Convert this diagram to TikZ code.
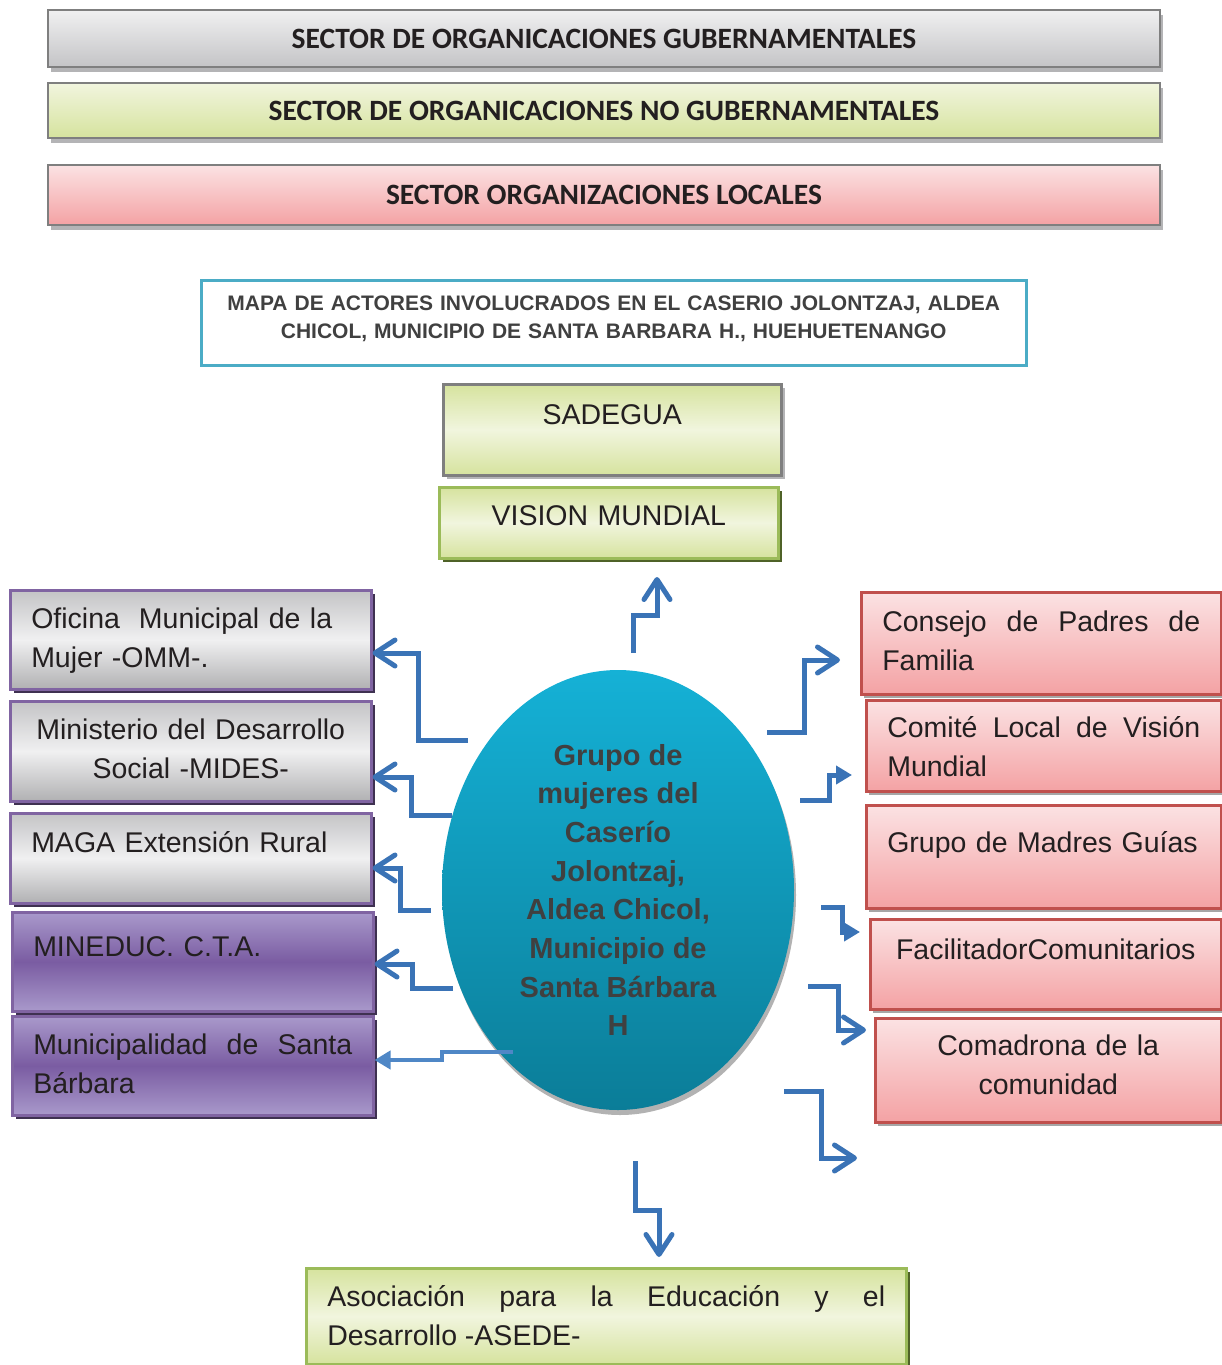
\documentclass[tikz,border=0pt]{standalone}
\usepackage{fontspec}
\setmainfont{Liberation Sans}
\newfontfamily\calibri{Carlito}
\usetikzlibrary{arrows.meta,shadows,shapes.geometric}

\definecolor{arrblue}{HTML}{3A73B6}
\definecolor{arrlight}{HTML}{4F87C6}
\definecolor{purpleline}{HTML}{8064A2}
\definecolor{purpleshadow}{HTML}{3F3151}
\definecolor{redline}{HTML}{C0504D}
\definecolor{greenline}{HTML}{9BBB59}
\definecolor{greenshadow}{HTML}{4F6228}
\definecolor{greyline}{HTML}{7F7F7F}
\definecolor{greyshadow}{HTML}{B4B4B6}
\definecolor{titleline}{HTML}{4BACC6}
\definecolor{boxtext}{HTML}{231F20}
\definecolor{darktext}{HTML}{404040}
% rellenos
\definecolor{greyA}{HTML}{C4C4C6}
\definecolor{greyB}{HTML}{F0F0F1}
\definecolor{lilaA}{HTML}{A999CB}
\definecolor{lilaB}{HTML}{7A5CA2}
\definecolor{pinkA}{HTML}{FBE2E3}
\definecolor{pinkB}{HTML}{F4A2A4}
\definecolor{greenA}{HTML}{D6E39E}
\definecolor{greenB}{HTML}{F1F5DE}
\definecolor{cyanA}{HTML}{15B1D6}
\definecolor{cyanB}{HTML}{0B7D98}

\tikzset{
  bar/.style={rectangle, draw=greyline, line width=2.5pt, minimum width=1112pt,
    font=\calibri\bfseries\fontsize{29.5}{34}\selectfont, text=boxtext,
    drop shadow={shadow xshift=3pt, shadow yshift=-5pt, fill=greyshadow, opacity=1}},
  box/.style={rectangle, anchor=north west, inner ysep=0pt, inner xsep=21pt,
    line width=2.5pt, text=boxtext, font=\fontsize{28.5}{39}\selectfont},
  greybox/.style={box, draw=purpleline, top color=greyA, bottom color=greyA!90!black, middle color=greyB,
    drop shadow={shadow xshift=4pt, shadow yshift=-4pt, fill=purpleshadow, opacity=1}},
  lilabox/.style={box, draw=purpleline, top color=lilaA, bottom color=lilaA, middle color=lilaB,
    drop shadow={shadow xshift=4pt, shadow yshift=-4pt, fill=purpleshadow, opacity=1}},
  pinkbox/.style={box, draw=redline, top color=pinkA, bottom color=pinkB,
    drop shadow={shadow xshift=3pt, shadow yshift=-4pt, fill=gray!70, opacity=1}},
  greenbox/.style={box, draw=greenline, top color=greenA, bottom color=greenA, middle color=greenB,
    drop shadow={shadow xshift=4pt, shadow yshift=-4pt, fill=greenshadow, opacity=1}},
  arr/.style={draw=arrblue, line width=5pt, -{Straight Barb[length=20pt,width=26pt,round]}},
  tri/.style={draw=arrblue, line width=5pt, -{Triangle[length=16pt,width=18pt]}}
}

\begin{document}
\begin{tikzpicture}[x=1pt,y=-1pt]
\useasboundingbox (0,0) rectangle (1222,1365);

% sectores
\node[bar, minimum height=57pt, top color=greyB, bottom color=greyA] (gob) at (604,38.5) {SECTOR DE ORGANICACIONES GUBERNAMENTALES};
\node[bar, minimum height=55pt, top color=greenB, bottom color=greenA] (nogob) at (604,110.5) {SECTOR DE ORGANICACIONES NO GUBERNAMENTALES};
\node[bar, minimum height=60pt, top color=pinkA, bottom color=pinkB] (local) at (604,195) {SECTOR ORGANIZACIONES LOCALES};

% titulo
\node[box, draw=titleline, text=darktext, align=center, text width=783pt, text height=30.5pt, text depth=54.5pt,
  font=\bfseries\fontsize{21}{28}\selectfont] (mapa) at (200,279)
  {MAPA DE ACTORES INVOLUCRADOS EN EL CASERIO JOLONTZAJ, ALDEA\\CHICOL, MUNICIPIO DE SANTA BARBARA H., HUEHUETENANGO};

% arriba
\node[greenbox, draw=greyline, drop shadow={shadow xshift=4pt, shadow yshift=-4pt, fill=greyshadow, opacity=1},
  align=center, text width=296pt, text height=40pt, text depth=51pt] (sadegua) at (442,383) {SADEGUA};
\node[greenbox, align=center, text width=297pt, text height=38pt, text depth=33pt] (vision) at (438,486) {VISION MUNDIAL};

% izquierda
\node[greybox, align=left, text width=319pt, text height=38pt, text depth=61pt] (omm) at (9,589) {Oficina\ \ Municipal de la\\Mujer -OMM-.};
\node[greybox, align=center, text width=325pt, inner xsep=18pt, text height=38pt, text depth=62pt] (mides) at (9,700) {Ministerio del Desarrollo\\Social -MIDES-};
\node[greybox, align=left, text width=319pt, text height=39pt, text depth=51pt] (maga) at (9,812) {MAGA Extensión Rural};
\node[lilabox, align=left, text width=319pt, text height=44pt, text depth=55pt] (mineduc) at (11,911) {MINEDUC. C.T.A.};
\node[lilabox, align=justify, text width=319pt, text height=38pt, text depth=61pt] (muni) at (11,1015) {Municipalidad de Santa\linebreak Bárbara};

% derecha
\node[pinkbox, align=justify, text width=318pt, text height=39pt, text depth=63pt] (consejo) at (860,591) {Consejo de Padres de\linebreak Familia};
\node[pinkbox, align=justify, text width=313pt, text height=37pt, text depth=54pt] (comite) at (865,699) {Comité Local de Visión\linebreak Mundial};
\node[pinkbox, align=left, text width=313pt, text height=47pt, text depth=56pt] (madres) at (865,804) {Grupo de Madres Guías};
\node[pinkbox, align=center, text width=323pt, inner xsep=14pt, text height=40pt, text depth=50pt] (facil) at (869,918) {FacilitadorComunitarios};
\node[pinkbox, align=center, text width=314pt, inner xsep=16pt, text height=37pt, text depth=67pt] (comadrona) at (874,1017) {Comadrona de la\\comunidad};

% abajo
\node[greenbox, align=justify, text width=558pt, text height=38pt, text depth=58pt] (asede) at (305,1267) {Asociación para la Educación y el\linebreak Desarrollo -ASEDE-};

% centro
\node[ellipse, minimum width=352pt, minimum height=440pt, inner sep=0pt, top color=cyanA, bottom color=cyanB,
  draw=none, text=darktext, align=center, font=\bfseries\fontsize{29}{38.7}\selectfont,
  drop shadow={shadow xshift=2pt, shadow yshift=-5pt, fill=gray!60, opacity=1}] (mujeres) at (618,890)
  {Grupo de\\mujeres del\\Caserío\\Jolontzaj,\\Aldea Chicol,\\Municipio de\\Santa Bárbara\\H};

% flechas
\coordinate (a0) at (633,653);  \coordinate (t0) at (657,577);
\coordinate (a1) at (468,740);  \coordinate (c1) at (418,653);
\coordinate (a2) at (452,815);  \coordinate (c2) at (411,777);
\coordinate (a3) at (431,910);  \coordinate (c3) at (400,868);
\coordinate (a4) at (453,988);  \coordinate (c4) at (412,964);
\coordinate (a5) at (513,1052); \coordinate (c5) at (442,1060);
\coordinate (a6) at (767,732);  \coordinate (t6) at (840,660);
\coordinate (a7) at (800,800);  \coordinate (t7) at (852,775);
\coordinate (a8) at (821,907);  \coordinate (t8) at (860,932);
\coordinate (a9) at (808,986);  \coordinate (t9) at (866,1030);
\coordinate (a10) at (784,1091); \coordinate (t10) at (857,1158);
\coordinate (a11) at (635,1161); \coordinate (t11) at (659,1257);

\draw[arr] (a0) |- (657,615) -- (t0);
\draw[arr] (a1) -| (c1) -- (omm.east |- c1);
\draw[arr] (a2) -| (c2) -- (mides.east |- c2);
\draw[arr] (a3) -| (c3) -- (maga.east |- c3);
\draw[arr] (a4) -| (c4) -- (mineduc.east |- c4);
\draw[tri, draw=arrlight, line width=4pt] (a5) -| (c5) -- (muni.east |- c5);
\draw[arr] (a6) -| (804,660) -- (t6);
\draw[tri] (a7) -| (829,775) -- (t7);
\draw[tri] (a8) -| (842,932) -- (t8);
\draw[arr] (a9) -| (838,1030) -- (t9);
\draw[arr] (a10) -| (821,1158) -- (t10);
\draw[arr] (a11) |- (659,1210) -- (t11);
\end{tikzpicture}
\end{document}
